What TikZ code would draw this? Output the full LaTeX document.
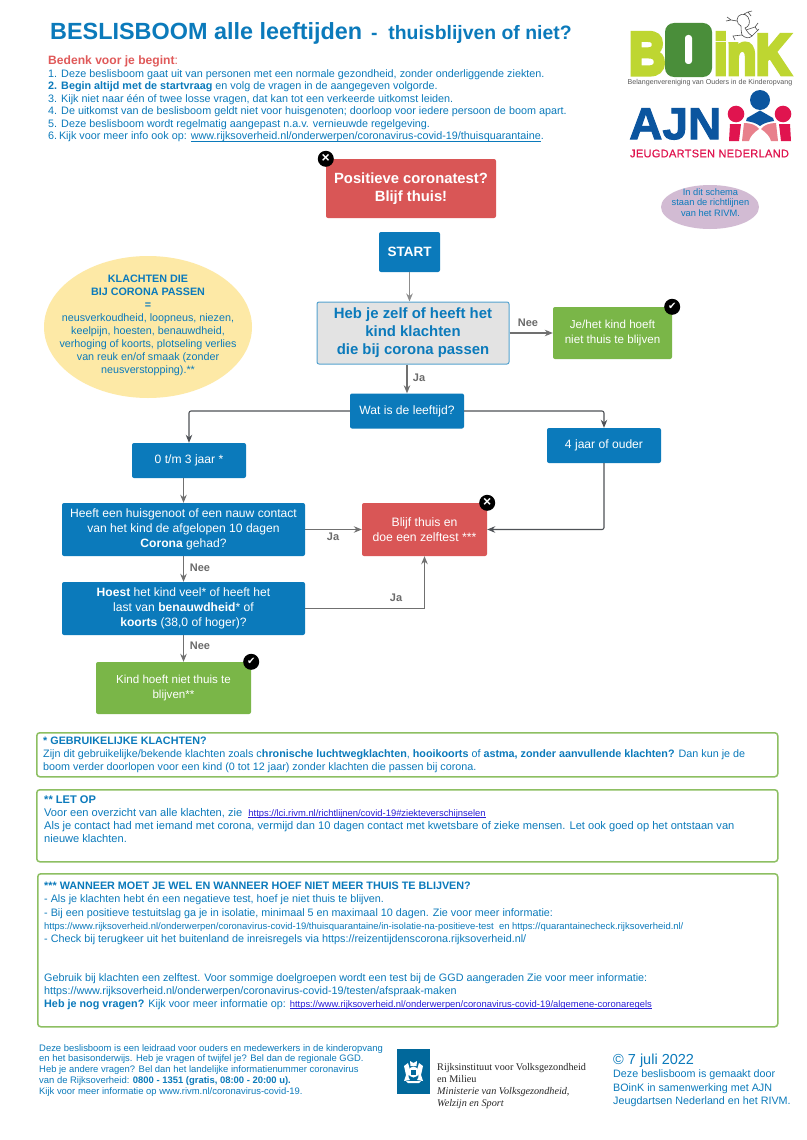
\documentclass[tikz,border=0pt]{standalone}
\usepackage{fontspec}
\setmainfont{Liberation Sans}
\newfontfamily\heavy[BoldFeatures={FakeBold=8}]{Liberation Sans}
\newfontfamily\ajnheavy[FakeBold=2]{Liberation Sans}
\newfontfamily\ajnfont[LetterSpace=3,FakeBold=.6]{Liberation Sans}
\newfontfamily\rivmfont{Liberation Serif}
\usetikzlibrary{arrows.meta,calc,shapes.geometric}
\definecolor{cblue}{HTML}{0B7ABB}
\definecolor{cred}{HTML}{D95656}
\definecolor{cgreen}{HTML}{7AB648}
\definecolor{cframe}{HTML}{8DBF62}
\definecolor{cgrey}{HTML}{E3E3E3}
\definecolor{cyellow}{HTML}{FDE9A6}
\definecolor{clila}{HTML}{D2BBD3}
\definecolor{cline}{HTML}{707070}
\definecolor{cdark}{HTML}{4F5257}
\definecolor{clabel}{HTML}{6B6B6B}
\definecolor{clink}{HTML}{2A1FD6}
\definecolor{chead}{HTML}{E05A5A}
\definecolor{clime}{HTML}{BED631}
\definecolor{cforest}{HTML}{4A8E3A}
\definecolor{cajn}{HTML}{0B559F}
\definecolor{ccrim}{HTML}{E0144F}
\definecolor{cpink}{HTML}{E8808C}
\definecolor{crivm}{HTML}{01689B}
\newcommand{\fs}[2]{\fontsize{#1}{#2}\selectfont}
\newlength\ulw
\newcommand{\ulin}[1]{\settowidth\ulw{#1}\rlap{\rule[-1.3pt]{\ulw}{.6pt}}#1}
\newcommand{\lnk}[1]{\textcolor{clink}{\ulin{#1}}}
\tikzset{
  base/.style={rectangle,rounded corners=2pt,inner sep=0pt,align=center,text=white},
  bluebox/.style={base,fill=cblue,font=\fs{12.1}{14.7}},
  redbox/.style={base,fill=cred,font=\fs{12.2}{14.7}},
  greenbox/.style={base,fill=cgreen,font=\fs{11.6}{14.5}},
  framebox/.style={rectangle,rounded corners=3pt,draw=cframe,line width=1.5pt,fill=white},
  txt/.style={inner sep=0pt,text=cblue,align=left,anchor=north west},
  arrow/.style={draw=cline,line width=1.1pt,-{Stealth[length=8pt,width=6.5pt]}},
  darrow/.style={draw=cdark,line width=1.1pt,rounded corners=2pt,-{Stealth[length=8pt,width=6.5pt]}},
  lab/.style={inner sep=0pt,text=clabel,font=\bfseries\fs{11}{13}},
  badge/.style={circle,fill=black,minimum size=16pt,inner sep=0pt,text=white,font=\bfseries\fs{10}{10}},
}
\begin{document}
\begin{tikzpicture}[x=1pt,y=-1pt]
\useasboundingbox (0,0) rectangle (806,1140);
\fill[white] (0,0) rectangle (806,1140);
% title
\node[txt,anchor=base west,font=\bfseries\fs{23.4}{26}] (title) at (50,40) {BESLISBOOM alle leeftijden};
\node[txt,anchor=base west,font=\bfseries\fs{19.4}{22}] (title2) at (371,40) {-\ \ thuisblijven of niet?};
\node[txt,font=\fs{10.8}{12.5},anchor=north west] (intro) at (48,56) {{\fs{12.1}{12.5}\textcolor{chead}{\bfseries Bedenk voor je begint}\textcolor{chead}{:}}\\
1. Deze beslisboom gaat uit van personen met een normale gezondheid, zonder onderliggende ziekten.\\
\textbf{2. Begin altijd met de startvraag} en volg de vragen in de aangegeven volgorde.\\
3. Kijk niet naar één of twee losse vragen, dat kan tot een verkeerde uitkomst leiden.\\
4. De uitkomst van de beslisboom geldt niet voor huisgenoten; doorloop voor iedere persoon de boom apart.\\
5. Deze beslisboom wordt regelmatig aangepast n.a.v. vernieuwde regelgeving.\\
6.\,Kijk voor meer info ook op: \ulin{www.rijksoverheid.nl/onderwerpen/coronavirus-covid-19/thuisquarantaine}.};
% flow nodes
\node[redbox,font=\bfseries\fs{14.8}{18.5},minimum width=170pt,minimum height=59pt] (pos) at (411,188.5) {Positieve coronatest?\\Blijf thuis!};
\node[bluebox,font=\bfseries\fs{13.5}{16},minimum width=61pt,minimum height=40pt] (start) at (409.5,252) {START};
\node[base,draw=cblue!70,line width=1pt,fill=cgrey,text=cblue,font=\bfseries\fs{14.9}{18},minimum width=192pt,minimum height=62pt] (heb) at (413,333) {Heb je zelf of heeft het\\kind klachten\\die bij corona passen};
\node[greenbox,minimum width=119pt,minimum height=52pt] (nee) at (612.5,333) {Je/het kind hoeft\\niet thuis te blijven};
\node[bluebox,minimum width=114pt,minimum height=35pt] (wat) at (407,411) {Wat is de leeftijd?};
\node[bluebox,minimum width=114pt,minimum height=35pt] (vier) at (604,445.5) {4 jaar of ouder};
\node[bluebox,minimum width=114pt,minimum height=35pt] (tm) at (189,460.5) {0 t/m 3 jaar *};
\node[bluebox,minimum width=243pt,minimum height=53pt] (heeft) at (183.5,529.5) {Heeft een huisgenoot of een nauw contact\\van het kind de afgelopen 10 dagen\\\textbf{Corona} gehad?};
\node[redbox,minimum width=125pt,minimum height=53pt] (blijf) at (424.5,529.5) {Blijf thuis en\\doe een zelftest ***};
\node[bluebox,minimum width=243pt,minimum height=53pt] (hoest) at (183.5,608.5) {\textbf{Hoest} het kind veel* of heeft het\\last van \textbf{benauwdheid}* of\\\textbf{koorts} (38,0 of hoger)?};
\node[greenbox,minimum width=155pt,minimum height=52pt] (kind) at (173.5,688) {Kind hoeft niet thuis te\\blijven**};
% ellipses
\node[ellipse,fill=cyellow,inner sep=0pt,minimum width=208pt,minimum height=142pt] (kl) at (148,327) {};
\node[inner sep=0pt,align=center,text=cblue,font=\fs{10.75}{13}] (klt) at (148,325) {\textbf{KLACHTEN DIE}\\\textbf{BIJ CORONA PASSEN}\\\textbf{=}\\neusverkoudheid, loopneus, niezen,\\keelpijn, hoesten, benauwdheid,\\verhoging of koorts, plotseling verlies\\van reuk en/of smaak (zonder\\neusverstopping).**};
\node[ellipse,fill=clila,inner sep=0pt,minimum width=98pt,minimum height=44pt] (riv) at (710,207) {};
\node[inner sep=0pt,align=center,text=cblue,font=\fs{9.3}{10.3}] (rivt) at (710.5,202.5) {In dit schema\\staan de richtlijnen\\van het RIVM.};
% badges
\node[badge] (b1) at (pos.north west) {\fs{14}{14}×};
\node[badge] (b2) at (nee.north east) {\fontspec{DejaVu Sans}\fs{10}{10}✔};
\node[badge] (b3) at (blijf.north east) {\fs{14}{14}×};
\node[badge] (b4) at (kind.north east) {\fontspec{DejaVu Sans}\fs{10}{10}✔};
% connectors
\draw[arrow,draw=cline!80] (start.south) -- (start.south |- heb.north);
\draw[arrow] (wat.north |- heb.south) -- (wat.north);
\draw[arrow] (heb.east) -- (nee.west);
\draw[darrow] (wat.west) -| (tm.north);
\draw[darrow] (wat.east) -| (vier.north);
\draw[darrow] (vier.south) |- (blijf.east);
\draw[arrow] (heeft.north |- tm.south) -- (heeft.north);
\draw[arrow] (heeft.east) -- (blijf.west);
\draw[arrow] (heeft.south) -- (hoest.north);
\draw[arrow] (hoest.east) -| (blijf.south);
\draw[arrow] (hoest.south) -- (hoest.south |- kind.north);
% labels
\node[lab] (l1) at (528,323) {Nee};
\node[lab] (l2) at (419,378) {Ja};
\node[lab] (l3) at (333,537) {Ja};
\node[lab] (l4) at (200,568) {Nee};
\node[lab] (l5) at (396,598) {Ja};
\node[lab] (l6) at (200,646) {Nee};
% note boxes
\node[framebox,minimum width=741pt,minimum height=44pt,anchor=north west] (f1) at (36,732) {};
\node[framebox,minimum width=741pt,minimum height=72pt,anchor=north west] (f2) at (36,789) {};
\node[framebox,minimum width=740pt,minimum height=153pt,anchor=north west] (f3) at (37,873) {};
\node[txt,font=\fs{10.78}{13}] (t1) at (43,736.5) {\textbf{* GEBRUIKELIJKE KLACHTEN?}\\
Zijn dit gebruikelijke/bekende klachten zoals c\textbf{hronische luchtwegklachten}, \textbf{hooikoorts} of \textbf{astma, zonder aanvullende klachten?} Dan kun je de\\
boom verder doorlopen voor een kind (0 tot 12 jaar) zonder klachten die passen bij corona.};
\node[txt,font=\fs{11.1}{13.1}] (t2) at (44,795.5) {\textbf{** LET OP}\\
Voor een overzicht van alle klachten, zie \ {\fs{9.4}{13.1}\lnk{https://lci.rivm.nl/richtlijnen/covid-19\#ziekteverschijnselen}}\\
Als je contact had met iemand met corona, vermijd dan 10 dagen contact met kwetsbare of zieke mensen. Let ook goed op het ontstaan van\\
nieuwe klachten.};
\node[txt,font=\fs{10.8}{13.2}] (t3) at (44,882) {\textbf{*** WANNEER MOET JE WEL EN WANNEER HOEF NIET MEER THUIS TE BLIJVEN?}\\
- Als je klachten hebt én een negatieve test, hoef je niet thuis te blijven.\\
- Bij een positieve testuitslag ga je in isolatie, minimaal 5 en maximaal 10 dagen. Zie voor meer informatie:\\
{\fs{9.45}{13.2}https://www.rijksoverheid.nl/onderwerpen/coronavirus-covid-19/thuisquarantaine/in-isolatie-na-positieve-test \ en https://quarantainecheck.rijksoverheid.nl/}\\
- Check bij terugkeer uit het buitenland de inreisregels via https://reizentijdenscorona.rijksoverheid.nl/};
\node[txt,font=\fs{10.8}{13.3}] (t4) at (44,973) {Gebruik bij klachten een zelftest. Voor sommige doelgroepen wordt een test bij de GGD aangeraden Zie voor meer informatie:\\
https://www.rijksoverheid.nl/onderwerpen/coronavirus-covid-19/testen/afspraak-maken\\
\textbf{Heb je nog vragen?} Kijk voor meer informatie op: {\fs{9.4}{13.3}\lnk{https://www.rijksoverheid.nl/onderwerpen/coronavirus-covid-19/algemene-coronaregels}}};
% footer
\node[txt,font=\fs{9.44}{10.9}] (ft1) at (39,1044) {Deze beslisboom is een leidraad voor ouders en medewerkers in de kinderopvang\\
en het basisonderwijs. Heb je vragen of twijfel je? Bel dan de regionale GGD.\\
Heb je andere vragen? Bel dan het landelijke informatienummer coronavirus\\
van de Rijksoverheid: \textbf{0800 - 1351 (gratis, 08:00 - 20:00 u).}\\
Kijk voor meer informatie op www.rivm.nl/coronavirus-covid-19.};
\node[txt,font=\fs{10.75}{13.5}] (ft2) at (613,1053.5) {{\fs{14.5}{15}© 7 juli 2022}\\
Deze beslisboom is gemaakt door\\
BOinK in samenwerking met AJN\\
Jeugdartsen Nederland en het RIVM.};
% RIVM logo
\fill[crivm] (397,1049) rectangle (430,1094);
\fill[white] (413.5,1072) circle (5.5);
\fill[white] (404,1066) -- (408,1063) -- (409.5,1068) -- (408.5,1077) -- (410,1080) -- (404,1081) -- (406,1075) -- cycle;
\fill[white] (423,1066) -- (419,1063) -- (417.5,1068) -- (418.5,1077) -- (417,1080) -- (423,1081) -- (421,1075) -- cycle;
\fill[white] (406,1081) -- (421,1081) -- (419,1083) -- (408,1083) -- cycle;
\fill[white] (410.5,1066) -- (410,1061) -- (413.5,1063) -- (417,1061) -- (416.5,1066) -- cycle;
\fill[crivm] (411,1069.5) rectangle (416,1075);
\node[inner sep=0pt,anchor=north west,align=left,text=black!85,font=\rivmfont\fs{10.2}{12.2}] (rv) at (437,1063) {Rijksinstituut voor Volksgezondheid\\en Milieu\\\textit{Ministerie van Volksgezondheid,}\\\textit{Welzijn en Sport}};
% BOinK logo
\node[inner sep=0pt,anchor=north west,text=clime] (lb) at (629,33) {\resizebox{36pt}{41pt}{\heavy\bfseries B}};
\fill[cforest,rounded corners=9pt] (665,23) rectangle (712,77);
\fill[white,rounded corners=3pt] (685,35) rectangle (692,64);
\node[inner sep=0pt,anchor=north west,text=clime] (lk) at (714,33) {\resizebox{76pt}{41pt}{\heavy\bfseries inK}};
\node[inner sep=0pt,text=black!65,font=\fs{7.1}{8}] (lbt) at (710,83) {Belangenvereniging van Ouders in de Kinderopvang};
% frog
\begin{scope}[draw=black!70,line width=.6pt,fill=white]
\filldraw (737,20) .. controls (737,14) and (745,12) .. (748,17) .. controls (751,22) and (749,27) .. (745,28) .. controls (748,33) and (750,35) .. (752,36) .. controls (749,39) and (745,38) .. (742,35) .. controls (741,31) and (741,28) .. (741,26) .. controls (739,25) and (737,23) .. (737,20) -- cycle;
\draw (737,21) -- (731,20) -- (726,21) (731,20) -- (727,17) (744,14) -- (748,12) -- (752,11) (748,12) -- (751,16);
\draw (746,30) -- (755,27) -- (758,31) (755,27) -- (758,23);
\draw (742,35) -- (733,36) -- (735,40) (752,36) -- (759,29);
\end{scope}
% AJN logo
\node[inner sep=0pt,anchor=north west,text=cajn] (la) at (629,108) {\resizebox{92pt}{31pt}{\ajnheavy\bfseries AJN}};
\node[inner sep=0pt,text=ccrim,font=\ajnfont\fs{11}{12}] (lj) at (709.5,153.5) {JEUGDARTSEN NEDERLAND};
\fill[cajn] (760,100) circle (10);
\fill[ccrim] (736,114) circle (8.3);
\fill[ccrim] (783,114) circle (8.3);
\fill[cajn] (760,110.5) -- (747,118) -- (746,121) .. controls (752,122) and (756,123) .. (760,126) .. controls (764,123) and (768,122) .. (774,121) -- (773,118) -- cycle;
\fill[cpink] (744,123) .. controls (751,123) and (756,125) .. (759,129) .. controls (753,133) and (750,137) .. (749,141) -- (742,141) -- cycle;
\fill[cpink] (776,123) .. controls (769,123) and (764,125) .. (761,129) .. controls (767,133) and (770,137) .. (771,141) -- (778,141) -- cycle;
\fill[ccrim] (730,124) -- (741,124) -- (739,141) -- (729,141) -- cycle;
\fill[ccrim] (779,124) -- (790,124) -- (791,141) -- (781,141) -- cycle;
\end{tikzpicture}
\end{document}
